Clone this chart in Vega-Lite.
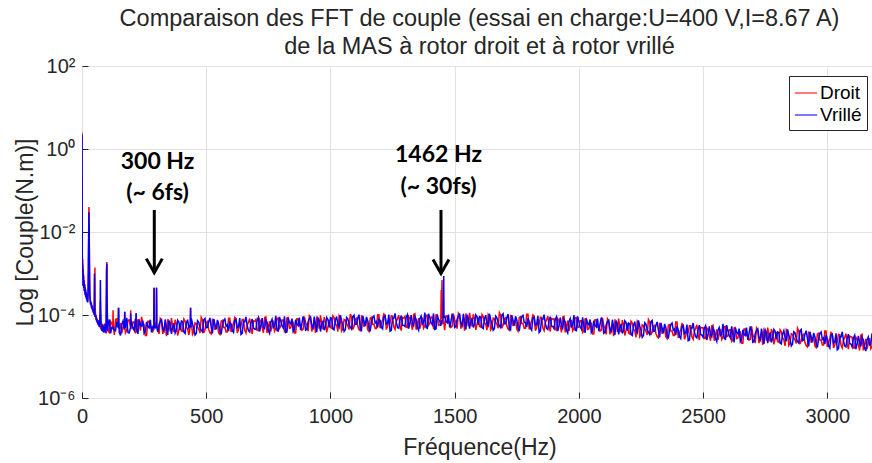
{
"$schema": "https://vega.github.io/schema/vega-lite/v6.json",
"width": 795, "height": 332,
"autosize": {"type": "none"},
"padding": {"left": 82, "top": 66, "right": 0, "bottom": 65},
"background": "white",
"title": {"text": ["Comparaison des FFT de couple (essai en charge:U=400 V,I=8.67 A)", "de la MAS à rotor droit et à rotor vrillé"], "fontSize": 23.5, "font": "Liberation Sans", "fontWeight": "normal", "color": "#262626", "lineHeight": 28, "offset": -2, "anchor": "middle", "frame": "group"},
"config": {
  "view": {"stroke": "#262626", "strokeWidth": 1},
  "axis": {"labelFont": "Liberation Sans", "titleFont": "Liberation Sans", "labelColor": "#262626", "titleColor": "#262626", "titleFontWeight": "normal", "gridColor": "#e2e2e2", "domain": false, "tickColor": "#262626", "tickSize": -6, "labelFontSize": 20, "titleFontSize": 23},
  "legend": {"orient": "top-right", "offset": 10, "strokeColor": "#262626", "fillColor": "white", "padding": 5, "symbolType": "stroke", "symbolSize": 500, "symbolStrokeWidth": 1.5, "labelFont": "Liberation Sans", "labelFontSize": 19, "labelColor": "#000", "rowPadding": 0, "labelOffset": 2, "symbolOpacity": 0.7}
},
"layer": [
{
"data": {"values": [
{"f":0,"droit":2.5,"vrille":2.2},
{"f":1,"droit":4e-3,"vrille":3e-3},
{"f":2,"droit":1.2e-3,"vrille":9e-4},
{"f":3,"droit":2.2e-3,"vrille":1.6e-3},
{"f":4,"droit":7e-4,"vrille":5e-4},
{"f":5,"droit":1.3e-3,"vrille":1e-3},
{"f":6,"droit":5e-4,"vrille":7e-4},
{"f":7,"droit":9e-4,"vrille":4.5e-4},
{"f":8,"droit":4.5e-4,"vrille":6.5e-4},
{"f":9,"droit":7e-4,"vrille":3.8e-4},
{"f":10,"droit":3.8e-4,"vrille":5.5e-4},
{"f":11,"droit":5.5e-4,"vrille":3.5e-4},
{"f":12,"droit":3.3e-4,"vrille":4.8e-4},
{"f":13,"droit":4.5e-4,"vrille":3e-4},
{"f":14,"droit":3e-4,"vrille":4.2e-4},
{"f":15,"droit":4e-4,"vrille":2.8e-4},
{"f":16,"droit":2.7e-4,"vrille":3.6e-4},
{"f":17,"droit":3.5e-4,"vrille":2.5e-4},
{"f":18,"droit":2.5e-4,"vrille":3.2e-4},
{"f":19,"droit":3.2e-4,"vrille":2.3e-4},
{"f":20,"droit":2.3e-4,"vrille":2.9e-4},
{"f":21,"droit":2.9e-4,"vrille":2.1e-4},
{"f":22,"droit":2.1e-4,"vrille":2.7e-4},
{"f":23,"droit":2.6e-4,"vrille":2e-4},
{"f":24,"droit":3e-4,"vrille":2.6e-4},
{"f":25,"droit":6e-4,"vrille":4.5e-4},
{"f":26,"droit":2.5e-3,"vrille":1.8e-3},
{"f":27,"droit":0.012,"vrille":0.009},
{"f":28,"droit":0.04,"vrille":0.03},
{"f":29,"droit":0.01,"vrille":0.007},
{"f":30,"droit":2e-3,"vrille":1.3e-3},
{"f":31,"droit":5e-4,"vrille":4e-4},
{"f":32,"droit":2.4e-4,"vrille":2.8e-4},
{"f":34,"droit":2.2e-4,"vrille":1.8e-4},
{"f":36,"droit":1.7e-4,"vrille":2.1e-4},
{"f":38,"droit":1.9e-4,"vrille":1.5e-4},
{"f":40,"droit":1.4e-4,"vrille":1.7e-4},
{"f":42,"droit":1.6e-4,"vrille":1.3e-4},
{"f":44,"droit":1.2e-4,"vrille":1.4e-4},
{"f":46,"droit":1.3e-4,"vrille":1.1e-4},
{"f":48,"droit":1e-4,"vrille":1.2e-4},
{"f":49,"droit":1.1e-4,"vrille":2e-4},
{"f":50,"droit":1.2e-4,"vrille":1e-3},
{"f":51,"droit":2.5e-4,"vrille":2.2e-4},
{"f":52,"droit":1.4e-3,"vrille":9e-5},
{"f":53,"droit":1.5e-4,"vrille":1e-4},
{"f":55,"droit":8.5e-5,"vrille":1e-4},
{"f":57,"droit":9.5e-5,"vrille":7.5e-5},
{"f":59,"droit":7e-5,"vrille":8.5e-5},
{"f":61,"droit":8e-5,"vrille":6.5e-5},
{"f":63,"droit":6.2e-5,"vrille":7.5e-5},
{"f":65,"droit":7.5e-5,"vrille":5.8e-5},
{"f":67,"droit":5.5e-5,"vrille":7e-5},
{"f":69,"droit":7e-5,"vrille":5.2e-5},
{"f":71,"droit":5e-5,"vrille":6.5e-5},
{"f":73,"droit":6.5e-5,"vrille":1.2e-4},
{"f":74,"droit":2.2e-4,"vrille":7e-4},
{"f":75,"droit":5.5e-5,"vrille":1.5e-4},
{"f":77,"droit":4.5e-5,"vrille":6e-5},
{"f":79,"droit":6.5e-5,"vrille":4.2e-5},
{"f":81,"droit":4.2e-5,"vrille":5.8e-5},
{"f":83,"droit":6e-5,"vrille":4e-5},
{"f":85,"droit":4e-5,"vrille":5.5e-5},
{"f":87,"droit":5.8e-5,"vrille":3.8e-5},
{"f":89,"droit":3.8e-5,"vrille":5.2e-5},
{"f":91,"droit":6.2e-5,"vrille":4.1e-5},
{"f":93,"droit":4e-5,"vrille":6e-5},
{"f":95,"droit":5.5e-5,"vrille":3.7e-5},
{"f":97,"droit":3.6e-5,"vrille":5.4e-5},
{"f":98,"droit":1.5e-4,"vrille":2.5e-4},
{"f":99,"droit":1.3e-3,"vrille":1.2e-3},
{"f":100,"droit":1.9e-3,"vrille":1.7e-3},
{"f":101,"droit":2.2e-4,"vrille":1.8e-4},
{"f":103,"droit":6e-5,"vrille":4.2e-5},
{"f":105,"droit":4.1e-5,"vrille":5.8e-5},
{"f":110,"droit":3.8e-5,"vrille":7.8e-5},
{"f":120,"droit":6.2e-5,"vrille":5e-5},
{"f":124,"droit":5e-5,"vrille":4.8e-5},
{"f":125,"droit":1.3e-4,"vrille":5.2e-5},
{"f":126,"droit":5.5e-5,"vrille":4.6e-5},
{"f":130,"droit":3.3e-5,"vrille":4.4e-5},
{"f":140,"droit":8.1e-5,"vrille":6.9e-5},
{"f":145,"droit":5.2e-5,"vrille":5e-5},
{"f":146,"droit":1.5e-4,"vrille":5.6e-5},
{"f":147,"droit":5e-5,"vrille":6e-5},
{"f":148,"droit":5.8e-5,"vrille":1.5e-4},
{"f":149,"droit":4.9e-5,"vrille":5.3e-5},
{"f":150,"droit":4.6e-5,"vrille":3.8e-5},
{"f":160,"droit":3.6e-5,"vrille":6e-5},
{"f":170,"droit":6.6e-5,"vrille":4.5e-5},
{"f":171,"droit":5.5e-5,"vrille":5e-5},
{"f":172,"droit":1.2e-4,"vrille":1.2e-4},
{"f":173,"droit":5e-5,"vrille":5.6e-5},
{"f":180,"droit":4.2e-5,"vrille":8.6e-5},
{"f":190,"droit":7.6e-5,"vrille":3.7e-5},
{"f":195,"droit":5.3e-5,"vrille":4.9e-5},
{"f":196,"droit":1.3e-4,"vrille":1.1e-4},
{"f":197,"droit":5e-5,"vrille":5.5e-5},
{"f":200,"droit":4.8e-5,"vrille":6.4e-5},
{"f":210,"droit":6.8e-5,"vrille":4.3e-5},
{"f":217,"droit":5.6e-5,"vrille":5.1e-5},
{"f":218,"droit":1.1e-4,"vrille":1.1e-4},
{"f":219,"droit":4.9e-5,"vrille":5.4e-5},
{"f":220,"droit":3.8e-5,"vrille":4.6e-5},
{"f":230,"droit":7.7e-5,"vrille":7.5e-5},
{"f":240,"droit":9e-5,"vrille":5.4e-5},
{"f":250,"droit":5.9e-5,"vrille":3.6e-5},
{"f":260,"droit":3.2e-5,"vrille":6.8e-5},
{"f":270,"droit":7.1e-5,"vrille":4.9e-5},
{"f":280,"droit":5.1e-5,"vrille":3.8e-5},
{"f":289,"droit":5.2e-5,"vrille":4.8e-5},
{"f":290,"droit":4.6e-4,"vrille":4.5e-4},
{"f":291,"droit":5e-5,"vrille":5.5e-5},
{"f":295,"droit":6e-5,"vrille":5e-5},
{"f":299,"droit":5.4e-5,"vrille":5.8e-5},
{"f":300,"droit":4.4e-4,"vrille":4.6e-4},
{"f":301,"droit":5.5e-5,"vrille":5e-5},
{"f":310,"droit":3.5e-5,"vrille":5.9e-5},
{"f":320,"droit":7.3e-5,"vrille":7.7e-5},
{"f":330,"droit":4.9e-5,"vrille":4.1e-5},
{"f":340,"droit":3.1e-5,"vrille":5.1e-5},
{"f":350,"droit":6.5e-5,"vrille":7.2e-5},
{"f":360,"droit":8.4e-5,"vrille":3.5e-5},
{"f":370,"droit":3.9e-5,"vrille":6.3e-5},
{"f":380,"droit":5.9e-5,"vrille":4.4e-5},
{"f":390,"droit":4.4e-5,"vrille":6.7e-5},
{"f":400,"droit":4.1e-5,"vrille":7.2e-5},
{"f":410,"droit":8e-5,"vrille":3.9e-5},
{"f":420,"droit":5.1e-5,"vrille":6.3e-5},
{"f":430,"droit":3.3e-5,"vrille":4.9e-5},
{"f":436,"droit":5.3e-5,"vrille":5.8e-5},
{"f":437,"droit":1.5e-4,"vrille":1.5e-4},
{"f":438,"droit":5.6e-5,"vrille":5e-5},
{"f":440,"droit":7e-5,"vrille":8.3e-5},
{"f":450,"droit":3.9e-5,"vrille":4.7e-5},
{"f":460,"droit":6.2e-5,"vrille":3.6e-5},
{"f":470,"droit":4.6e-5,"vrille":6.7e-5},
{"f":480,"droit":8.8e-5,"vrille":4.3e-5},
{"f":490,"droit":3.7e-5,"vrille":7.7e-5},
{"f":500,"droit":6.6e-5,"vrille":4.9e-5},
{"f":510,"droit":4.5e-5,"vrille":7e-5},
{"f":520,"droit":3.5e-5,"vrille":5.2e-5},
{"f":530,"droit":7.7e-5,"vrille":8e-5},
{"f":540,"droit":5.6e-5,"vrille":4.5e-5},
{"f":550,"droit":3.7e-5,"vrille":6.2e-5},
{"f":560,"droit":7.1e-5,"vrille":3.4e-5},
{"f":570,"droit":5e-5,"vrille":7.4e-5},
{"f":580,"droit":3.9e-5,"vrille":5.3e-5},
{"f":590,"droit":8.4e-5,"vrille":4.1e-5},
{"f":600,"droit":3.9e-5,"vrille":6.1e-5},
{"f":610,"droit":6.4e-5,"vrille":3.8e-5},
{"f":620,"droit":8.2e-5,"vrille":7.8e-5},
{"f":630,"droit":4.4e-5,"vrille":5.2e-5},
{"f":640,"droit":5.5e-5,"vrille":3.4e-5},
{"f":650,"droit":7.8e-5,"vrille":7e-5},
{"f":660,"droit":3.7e-5,"vrille":9e-5},
{"f":670,"droit":6.7e-5,"vrille":4.2e-5},
{"f":680,"droit":4.8e-5,"vrille":6.4e-5},
{"f":690,"droit":7.2e-5,"vrille":4.8e-5},
{"f":700,"droit":7.8e-5,"vrille":4.5e-5},
{"f":710,"droit":4.2e-5,"vrille":8.7e-5},
{"f":720,"droit":6.9e-5,"vrille":5.5e-5},
{"f":730,"droit":3.7e-5,"vrille":5e-5},
{"f":740,"droit":9e-5,"vrille":7.7e-5},
{"f":750,"droit":5.1e-5,"vrille":4.2e-5},
{"f":760,"droit":4e-5,"vrille":6.7e-5},
{"f":770,"droit":7.3e-5,"vrille":5e-5},
{"f":780,"droit":4.7e-5,"vrille":9.6e-5},
{"f":790,"droit":8.4e-5,"vrille":4.1e-5},
{"f":800,"droit":5.4e-5,"vrille":7.2e-5},
{"f":810,"droit":7.6e-5,"vrille":4.9e-5},
{"f":820,"droit":4.3e-5,"vrille":3.8e-5},
{"f":830,"droit":8.7e-5,"vrille":8.4e-5},
{"f":840,"droit":4.9e-5,"vrille":6.1e-5},
{"f":850,"droit":6.7e-5,"vrille":4e-5},
{"f":860,"droit":3.7e-5,"vrille":7.7e-5},
{"f":870,"droit":8.1e-5,"vrille":5.5e-5},
{"f":880,"droit":5.8e-5,"vrille":4.3e-5},
{"f":890,"droit":4.5e-5,"vrille":9.2e-5},
{"f":900,"droit":6.6e-5,"vrille":4.3e-5},
{"f":910,"droit":4.1e-5,"vrille":6.9e-5},
{"f":920,"droit":8.5e-5,"vrille":8.9e-5},
{"f":930,"droit":5.7e-5,"vrille":4.8e-5},
{"f":940,"droit":3.7e-5,"vrille":5.9e-5},
{"f":950,"droit":7.6e-5,"vrille":8.4e-5},
{"f":960,"droit":9.8e-5,"vrille":4e-5},
{"f":970,"droit":4.5e-5,"vrille":7.3e-5},
{"f":980,"droit":6.9e-5,"vrille":5.2e-5},
{"f":990,"droit":5.2e-5,"vrille":7.8e-5},
{"f":1000,"droit":5e-5,"vrille":8.6e-5},
{"f":1010,"droit":9.6e-5,"vrille":4.6e-5},
{"f":1020,"droit":6.1e-5,"vrille":7.6e-5},
{"f":1030,"droit":4e-5,"vrille":5.9e-5},
{"f":1040,"droit":8.4e-5,"vrille":9.9e-5},
{"f":1050,"droit":4.6e-5,"vrille":5.6e-5},
{"f":1060,"droit":7.4e-5,"vrille":4.4e-5},
{"f":1070,"droit":5.5e-5,"vrille":8.1e-5},
{"f":1080,"droit":1.06e-4,"vrille":5.1e-5},
{"f":1090,"droit":4.5e-5,"vrille":9.2e-5},
{"f":1100,"droit":7.9e-5,"vrille":5.9e-5},
{"f":1110,"droit":5.4e-5,"vrille":8.4e-5},
{"f":1120,"droit":4.2e-5,"vrille":4.7e-5},
{"f":1130,"droit":9.2e-5,"vrille":9.5e-5},
{"f":1140,"droit":6.7e-5,"vrille":5.4e-5},
{"f":1150,"droit":4.4e-5,"vrille":7.4e-5},
{"f":1160,"droit":8.4e-5,"vrille":4e-5},
{"f":1170,"droit":6e-5,"vrille":8.8e-5},
{"f":1180,"droit":4.7e-5,"vrille":6.4e-5},
{"f":1190,"droit":1.01e-4,"vrille":5e-5},
{"f":1200,"droit":4.8e-5,"vrille":7.4e-5},
{"f":1210,"droit":7.7e-5,"vrille":4.6e-5},
{"f":1220,"droit":9.9e-5,"vrille":9.5e-5},
{"f":1230,"droit":5.3e-5,"vrille":6.3e-5},
{"f":1240,"droit":6.6e-5,"vrille":4.1e-5},
{"f":1250,"droit":9.4e-5,"vrille":8.4e-5},
{"f":1260,"droit":4.5e-5,"vrille":1.09e-4},
{"f":1270,"droit":8.1e-5,"vrille":5e-5},
{"f":1280,"droit":5.7e-5,"vrille":7.7e-5},
{"f":1290,"droit":8.7e-5,"vrille":5.7e-5},
{"f":1300,"droit":9.2e-5,"vrille":5.3e-5},
{"f":1310,"droit":5e-5,"vrille":1.03e-4},
{"f":1320,"droit":8.2e-5,"vrille":6.5e-5},
{"f":1330,"droit":4.4e-5,"vrille":6.2e-5},
{"f":1340,"droit":1.07e-4,"vrille":9.1e-5},
{"f":1350,"droit":6e-5,"vrille":5e-5},
{"f":1360,"droit":4.7e-5,"vrille":8e-5},
{"f":1370,"droit":8.7e-5,"vrille":6e-5},
{"f":1380,"droit":5.5e-5,"vrille":1.14e-4},
{"f":1390,"droit":9.9e-5,"vrille":4.8e-5},
{"f":1400,"droit":6.3e-5,"vrille":8.5e-5},
{"f":1410,"droit":9e-5,"vrille":5.8e-5},
{"f":1420,"droit":5e-5,"vrille":4.5e-5},
{"f":1430,"droit":1.02e-4,"vrille":9.9e-5},
{"f":1440,"droit":5.8e-5,"vrille":7.2e-5},
{"f":1444,"droit":6e-5,"vrille":5.5e-5},
{"f":1446,"droit":4e-4,"vrille":6.5e-5},
{"f":1447,"droit":8e-5,"vrille":6e-5},
{"f":1449,"droit":7e-4,"vrille":7.5e-5},
{"f":1450,"droit":9e-5,"vrille":7e-5},
{"f":1453,"droit":6.5e-5,"vrille":8e-5},
{"f":1456,"droit":7e-5,"vrille":8.7e-4},
{"f":1457,"droit":6e-5,"vrille":9e-5},
{"f":1460,"droit":4.3e-5,"vrille":9.1e-5},
{"f":1470,"droit":9.5e-5,"vrille":6.5e-5},
{"f":1480,"droit":6.8e-5,"vrille":5e-5},
{"f":1490,"droit":5.3e-5,"vrille":1.08e-4},
{"f":1500,"droit":7.7e-5,"vrille":5e-5},
{"f":1510,"droit":4.7e-5,"vrille":8e-5},
{"f":1520,"droit":9.9e-5,"vrille":1.04e-4},
{"f":1530,"droit":6.6e-5,"vrille":5.5e-5},
{"f":1540,"droit":4.2e-5,"vrille":6.9e-5},
{"f":1550,"droit":8.8e-5,"vrille":9.8e-5},
{"f":1560,"droit":1.13e-4,"vrille":4.7e-5},
{"f":1570,"droit":5.3e-5,"vrille":8.5e-5},
{"f":1580,"droit":8e-5,"vrille":6e-5},
{"f":1590,"droit":6e-5,"vrille":9.1e-5},
{"f":1600,"droit":5.3e-5,"vrille":9.2e-5},
{"f":1610,"droit":1.03e-4,"vrille":5e-5},
{"f":1620,"droit":6.5e-5,"vrille":8.2e-5},
{"f":1630,"droit":4.3e-5,"vrille":6.1e-5},
{"f":1640,"droit":9.1e-5,"vrille":1.07e-4},
{"f":1650,"droit":5e-5,"vrille":6e-5},
{"f":1660,"droit":8e-5,"vrille":4.7e-5},
{"f":1670,"droit":6e-5,"vrille":8.7e-5},
{"f":1680,"droit":1.14e-4,"vrille":5.5e-5},
{"f":1690,"droit":4.8e-5,"vrille":9.9e-5},
{"f":1700,"droit":8.1e-5,"vrille":6.1e-5},
{"f":1710,"droit":5.5e-5,"vrille":8.6e-5},
{"f":1720,"droit":4.3e-5,"vrille":4.8e-5},
{"f":1730,"droit":9.5e-5,"vrille":9.8e-5},
{"f":1740,"droit":6.9e-5,"vrille":5.5e-5},
{"f":1750,"droit":4.6e-5,"vrille":7.6e-5},
{"f":1760,"droit":8.7e-5,"vrille":4.1e-5},
{"f":1770,"droit":6.2e-5,"vrille":9.1e-5},
{"f":1780,"droit":4.8e-5,"vrille":6.6e-5},
{"f":1790,"droit":1.04e-4,"vrille":5.1e-5},
{"f":1800,"droit":4.5e-5,"vrille":6.9e-5},
{"f":1810,"droit":7.3e-5,"vrille":4.3e-5},
{"f":1820,"droit":9.4e-5,"vrille":8.9e-5},
{"f":1830,"droit":5e-5,"vrille":5.9e-5},
{"f":1840,"droit":6.2e-5,"vrille":3.8e-5},
{"f":1850,"droit":8.8e-5,"vrille":7.9e-5},
{"f":1860,"droit":4.2e-5,"vrille":1.02e-4},
{"f":1870,"droit":7.7e-5,"vrille":4.8e-5},
{"f":1880,"droit":5.4e-5,"vrille":7.3e-5},
{"f":1890,"droit":8.2e-5,"vrille":5.4e-5},
{"f":1900,"droit":8.1e-5,"vrille":4.7e-5},
{"f":1910,"droit":4.3e-5,"vrille":9e-5},
{"f":1920,"droit":7.1e-5,"vrille":5.7e-5},
{"f":1930,"droit":3.8e-5,"vrille":5.6e-5},
{"f":1940,"droit":9.3e-5,"vrille":7.9e-5},
{"f":1950,"droit":5.3e-5,"vrille":4.3e-5},
{"f":1960,"droit":4.1e-5,"vrille":6.9e-5},
{"f":1970,"droit":7.6e-5,"vrille":5.2e-5},
{"f":1980,"droit":4.8e-5,"vrille":9.9e-5},
{"f":1990,"droit":8.7e-5,"vrille":4.2e-5},
{"f":2000,"droit":5.1e-5,"vrille":6.8e-5},
{"f":2010,"droit":7.3e-5,"vrille":4.6e-5},
{"f":2020,"droit":4.1e-5,"vrille":5.5e-5},
{"f":2030,"droit":8.2e-5,"vrille":8e-5},
{"f":2040,"droit":4.6e-5,"vrille":5.8e-5},
{"f":2050,"droit":6.4e-5,"vrille":3.8e-5},
{"f":2060,"droit":3.5e-5,"vrille":7.3e-5},
{"f":2070,"droit":7.7e-5,"vrille":5.2e-5},
{"f":2080,"droit":5.5e-5,"vrille":4.1e-5},
{"f":2090,"droit":4.3e-5,"vrille":8.7e-5},
{"f":2100,"droit":5.6e-5,"vrille":3.6e-5},
{"f":2110,"droit":3.4e-5,"vrille":5.8e-5},
{"f":2120,"droit":7.2e-5,"vrille":7.5e-5},
{"f":2130,"droit":4.8e-5,"vrille":4e-5},
{"f":2140,"droit":3.1e-5,"vrille":5e-5},
{"f":2150,"droit":6.4e-5,"vrille":7.1e-5},
{"f":2160,"droit":8.2e-5,"vrille":3.4e-5},
{"f":2170,"droit":3.8e-5,"vrille":6.1e-5},
{"f":2180,"droit":5.8e-5,"vrille":4.3e-5},
{"f":2190,"droit":4.3e-5,"vrille":6.6e-5},
{"f":2200,"droit":3.7e-5,"vrille":6.4e-5},
{"f":2210,"droit":7.1e-5,"vrille":3.4e-5},
{"f":2220,"droit":4.5e-5,"vrille":5.6e-5},
{"f":2230,"droit":2.9e-5,"vrille":4.3e-5},
{"f":2240,"droit":6.3e-5,"vrille":7.4e-5},
{"f":2250,"droit":3.4e-5,"vrille":4.2e-5},
{"f":2260,"droit":5.5e-5,"vrille":3.2e-5},
{"f":2270,"droit":4.1e-5,"vrille":6e-5},
{"f":2280,"droit":7.8e-5,"vrille":3.8e-5},
{"f":2290,"droit":3.3e-5,"vrille":6.9e-5},
{"f":2300,"droit":5.3e-5,"vrille":4e-5},
{"f":2310,"droit":3.6e-5,"vrille":5.6e-5},
{"f":2320,"droit":2.8e-5,"vrille":4.4e-5},
{"f":2330,"droit":6.2e-5,"vrille":6.4e-5},
{"f":2340,"droit":4.5e-5,"vrille":3.6e-5},
{"f":2350,"droit":3e-5,"vrille":5e-5},
{"f":2360,"droit":5.7e-5,"vrille":2.7e-5},
{"f":2370,"droit":4.1e-5,"vrille":5.9e-5},
{"f":2380,"droit":3.2e-5,"vrille":4.3e-5},
{"f":2390,"droit":6.8e-5,"vrille":3.3e-5},
{"f":2400,"droit":2.8e-5,"vrille":4.3e-5},
{"f":2410,"droit":4.5e-5,"vrille":2.7e-5},
{"f":2420,"droit":5.8e-5,"vrille":5.5e-5},
{"f":2430,"droit":3.1e-5,"vrille":3.7e-5},
{"f":2440,"droit":3.9e-5,"vrille":2.4e-5},
{"f":2450,"droit":5.5e-5,"vrille":4.9e-5},
{"f":2460,"droit":2.6e-5,"vrille":6.4e-5},
{"f":2470,"droit":4.8e-5,"vrille":3e-5},
{"f":2480,"droit":3.4e-5,"vrille":4.5e-5},
{"f":2490,"droit":5.1e-5,"vrille":3.4e-5},
{"f":2500,"droit":4.9e-5,"vrille":2.9e-5},
{"f":2510,"droit":2.7e-5,"vrille":5.5e-5},
{"f":2520,"droit":4.4e-5,"vrille":3.5e-5},
{"f":2530,"droit":2.4e-5,"vrille":3.4e-5},
{"f":2540,"droit":5.7e-5,"vrille":4.9e-5},
{"f":2550,"droit":3.2e-5,"vrille":2.7e-5},
{"f":2560,"droit":2.5e-5,"vrille":4.3e-5},
{"f":2570,"droit":4.6e-5,"vrille":3.2e-5},
{"f":2580,"droit":3e-5,"vrille":6.1e-5},
{"f":2590,"droit":5.3e-5,"vrille":2.6e-5},
{"f":2600,"droit":3.1e-5,"vrille":4.1e-5},
{"f":2610,"droit":4.4e-5,"vrille":2.8e-5},
{"f":2620,"droit":2.5e-5,"vrille":3.3e-5},
{"f":2630,"droit":5e-5,"vrille":4.8e-5},
{"f":2640,"droit":2.8e-5,"vrille":3.5e-5},
{"f":2650,"droit":3.9e-5,"vrille":2.3e-5},
{"f":2660,"droit":2.1e-5,"vrille":4.4e-5},
{"f":2670,"droit":4.6e-5,"vrille":3.2e-5},
{"f":2680,"droit":3.3e-5,"vrille":2.5e-5},
{"f":2690,"droit":2.6e-5,"vrille":5.3e-5},
{"f":2700,"droit":3.4e-5,"vrille":2.2e-5},
{"f":2710,"droit":2.1e-5,"vrille":3.6e-5},
{"f":2720,"droit":4.4e-5,"vrille":4.6e-5},
{"f":2730,"droit":2.9e-5,"vrille":2.5e-5},
{"f":2740,"droit":1.9e-5,"vrille":3.1e-5},
{"f":2750,"droit":3.9e-5,"vrille":4.4e-5},
{"f":2760,"droit":5e-5,"vrille":2.1e-5},
{"f":2770,"droit":2.3e-5,"vrille":3.8e-5},
{"f":2780,"droit":3.6e-5,"vrille":2.7e-5},
{"f":2790,"droit":2.7e-5,"vrille":4e-5},
{"f":2800,"droit":2.3e-5,"vrille":3.9e-5},
{"f":2810,"droit":4.4e-5,"vrille":2.1e-5},
{"f":2820,"droit":2.8e-5,"vrille":3.5e-5},
{"f":2830,"droit":1.8e-5,"vrille":2.8e-5},
{"f":2840,"droit":3.8e-5,"vrille":4.5e-5},
{"f":2850,"droit":2.1e-5,"vrille":2.6e-5},
{"f":2860,"droit":3.4e-5,"vrille":2e-5},
{"f":2870,"droit":2.5e-5,"vrille":3.7e-5},
{"f":2880,"droit":4.8e-5,"vrille":2.3e-5},
{"f":2890,"droit":2e-5,"vrille":4.2e-5},
{"f":2900,"droit":3.2e-5,"vrille":2.4e-5},
{"f":2910,"droit":2.2e-5,"vrille":3.4e-5},
{"f":2920,"droit":1.7e-5,"vrille":2.7e-5},
{"f":2930,"droit":3.8e-5,"vrille":3.9e-5},
{"f":2940,"droit":2.75e-5,"vrille":2.2e-5},
{"f":2950,"droit":1.8e-5,"vrille":3e-5},
{"f":2960,"droit":3.5e-5,"vrille":1.65e-5},
{"f":2970,"droit":2.5e-5,"vrille":3.6e-5},
{"f":2980,"droit":1.9e-5,"vrille":2.6e-5},
{"f":2990,"droit":4.1e-5,"vrille":2e-5},
{"f":3000,"droit":1.7e-5,"vrille":2.6e-5},
{"f":3010,"droit":2.75e-5,"vrille":1.6e-5},
{"f":3020,"droit":3.55e-5,"vrille":3.4e-5},
{"f":3030,"droit":1.9e-5,"vrille":2.25e-5},
{"f":3040,"droit":2.35e-5,"vrille":1.45e-5},
{"f":3050,"droit":3.35e-5,"vrille":3e-5},
{"f":3060,"droit":1.6e-5,"vrille":3.9e-5},
{"f":3070,"droit":2.9e-5,"vrille":1.8e-5},
{"f":3080,"droit":2.05e-5,"vrille":2.75e-5},
{"f":3090,"droit":3.1e-5,"vrille":2.05e-5},
{"f":3100,"droit":2.9e-5,"vrille":1.7e-5},
{"f":3110,"droit":1.6e-5,"vrille":3.25e-5},
{"f":3120,"droit":2.6e-5,"vrille":2.05e-5},
{"f":3130,"droit":1.4e-5,"vrille":2.2e-5},
{"f":3140,"droit":3.4e-5,"vrille":2.9e-5},
{"f":3150,"droit":1.9e-5,"vrille":1.6e-5},
{"f":3160,"droit":1.5e-5,"vrille":2.5e-5},
{"f":3170,"droit":2.75e-5,"vrille":1.9e-5},
{"f":3180,"droit":1.75e-5,"vrille":3.6e-5},
{"f":3190,"droit":3.15e-5,"vrille":1.55e-5},
{"f":3200,"droit":2e-5,"vrille":2.3e-5},
{"f":115,"droit":7e-5,"vrille":3.6e-5},
{"f":135,"droit":7.8e-5,"vrille":4.2e-5},
{"f":155,"droit":6.4e-5,"vrille":3.2e-5},
{"f":165,"droit":5.1e-5,"vrille":7.1e-5},
{"f":175,"droit":3.7e-5,"vrille":4.9e-5},
{"f":185,"droit":7.5e-5,"vrille":3.8e-5},
{"f":205,"droit":6.8e-5,"vrille":4.9e-5},
{"f":215,"droit":3.6e-5,"vrille":8.2e-5},
{"f":225,"droit":7.6e-5,"vrille":3.5e-5},
{"f":235,"droit":4.2e-5,"vrille":5.8e-5},
{"f":245,"droit":5.9e-5,"vrille":7.3e-5},
{"f":255,"droit":3.2e-5,"vrille":4e-5},
{"f":265,"droit":7.1e-5,"vrille":5.3e-5},
{"f":275,"droit":4.9e-5,"vrille":7.7e-5},
{"f":285,"droit":3.8e-5,"vrille":5.2e-5},
{"f":305,"droit":4.9e-5,"vrille":3.9e-5},
{"f":315,"droit":8.2e-5,"vrille":7e-5},
{"f":325,"droit":3.5e-5,"vrille":4.6e-5},
{"f":335,"droit":5.8e-5,"vrille":7.8e-5},
{"f":345,"droit":7.3e-5,"vrille":3.3e-5},
{"f":355,"droit":4e-5,"vrille":6.4e-5},
{"f":365,"droit":5.3e-5,"vrille":5.1e-5},
{"f":375,"droit":7.7e-5,"vrille":3.7e-5},
{"f":385,"droit":3.2e-5,"vrille":7.5e-5},
{"f":395,"droit":6.5e-5,"vrille":4.3e-5},
{"f":405,"droit":4e-5,"vrille":6.9e-5},
{"f":415,"droit":7.2e-5,"vrille":3.6e-5},
{"f":425,"droit":4.7e-5,"vrille":7.7e-5},
{"f":445,"droit":3.4e-5,"vrille":6.1e-5},
{"f":455,"droit":6.5e-5,"vrille":3.3e-5},
{"f":465,"droit":5.2e-5,"vrille":7.3e-5},
{"f":475,"droit":3.7e-5,"vrille":5e-5},
{"f":485,"droit":7.6e-5,"vrille":3.9e-5},
{"f":495,"droit":4.4e-5,"vrille":8.3e-5},
{"f":505,"droit":7e-5,"vrille":5e-5},
{"f":515,"droit":3.7e-5,"vrille":8.5e-5},
{"f":525,"droit":7.8e-5,"vrille":3.6e-5},
{"f":535,"droit":4.4e-5,"vrille":6e-5},
{"f":545,"droit":6.2e-5,"vrille":7.6e-5},
{"f":555,"droit":3.4e-5,"vrille":4.1e-5},
{"f":565,"droit":7.4e-5,"vrille":5.5e-5},
{"f":575,"droit":5e-5,"vrille":8e-5},
{"f":585,"droit":3.9e-5,"vrille":5.8e-5},
{"f":595,"droit":8.4e-5,"vrille":6.7e-5},
{"f":605,"droit":5.2e-5,"vrille":4.2e-5},
{"f":615,"droit":8.8e-5,"vrille":7.5e-5},
{"f":625,"droit":3.7e-5,"vrille":4.9e-5},
{"f":635,"droit":6.3e-5,"vrille":8.4e-5},
{"f":645,"droit":7.8e-5,"vrille":3.6e-5},
{"f":655,"droit":4.3e-5,"vrille":6.8e-5},
{"f":665,"droit":5.7e-5,"vrille":5.5e-5},
{"f":675,"droit":8.2e-5,"vrille":3.9e-5},
{"f":685,"droit":3.5e-5,"vrille":8e-5},
{"f":695,"droit":7e-5,"vrille":4.6e-5},
{"f":705,"droit":4.3e-5,"vrille":7.5e-5},
{"f":715,"droit":7.8e-5,"vrille":4e-5},
{"f":725,"droit":5.1e-5,"vrille":8.4e-5},
{"f":735,"droit":8.7e-5,"vrille":4.7e-5},
{"f":745,"droit":3.7e-5,"vrille":6.6e-5},
{"f":755,"droit":7.1e-5,"vrille":3.6e-5},
{"f":765,"droit":5.7e-5,"vrille":7.9e-5},
{"f":775,"droit":4.1e-5,"vrille":5.4e-5},
{"f":785,"droit":8.3e-5,"vrille":4.2e-5},
{"f":795,"droit":4.8e-5,"vrille":9e-5},
{"f":805,"droit":7.6e-5,"vrille":5.5e-5},
{"f":815,"droit":4e-5,"vrille":9.3e-5},
{"f":825,"droit":8.5e-5,"vrille":3.9e-5},
{"f":835,"droit":4.8e-5,"vrille":6.6e-5},
{"f":845,"droit":6.7e-5,"vrille":8.2e-5},
{"f":855,"droit":3.7e-5,"vrille":4.5e-5},
{"f":865,"droit":8.1e-5,"vrille":6e-5},
{"f":875,"droit":5.5e-5,"vrille":8.7e-5},
{"f":885,"droit":4.3e-5,"vrille":6.2e-5},
{"f":895,"droit":9.2e-5,"vrille":7.3e-5},
{"f":905,"droit":5.7e-5,"vrille":4.5e-5},
{"f":915,"droit":9.6e-5,"vrille":8.2e-5},
{"f":925,"droit":4e-5,"vrille":5.4e-5},
{"f":935,"droit":6.8e-5,"vrille":9.1e-5},
{"f":945,"droit":8.5e-5,"vrille":3.9e-5},
{"f":955,"droit":4.7e-5,"vrille":7.4e-5},
{"f":965,"droit":6.2e-5,"vrille":6e-5},
{"f":975,"droit":8.9e-5,"vrille":4.3e-5},
{"f":985,"droit":3.8e-5,"vrille":8.7e-5},
{"f":995,"droit":7.6e-5,"vrille":5e-5},
{"f":1005,"droit":4.8e-5,"vrille":8.3e-5},
{"f":1015,"droit":8.6e-5,"vrille":4.4e-5},
{"f":1025,"droit":5.6e-5,"vrille":9.2e-5},
{"f":1035,"droit":9.6e-5,"vrille":5.1e-5},
{"f":1045,"droit":4.1e-5,"vrille":7.3e-5},
{"f":1055,"droit":7.8e-5,"vrille":4e-5},
{"f":1065,"droit":6.3e-5,"vrille":8.7e-5},
{"f":1075,"droit":4.5e-5,"vrille":5.9e-5},
{"f":1085,"droit":9.1e-5,"vrille":4.6e-5},
{"f":1095,"droit":5.3e-5,"vrille":9.9e-5},
{"f":1105,"droit":8.4e-5,"vrille":6e-5},
{"f":1115,"droit":4.4e-5,"vrille":1.02e-4},
{"f":1125,"droit":9.4e-5,"vrille":4.3e-5},
{"f":1135,"droit":5.2e-5,"vrille":7.2e-5},
{"f":1145,"droit":7.4e-5,"vrille":9e-5},
{"f":1155,"droit":4e-5,"vrille":5e-5},
{"f":1165,"droit":8.8e-5,"vrille":6.6e-5},
{"f":1175,"droit":6e-5,"vrille":9.5e-5},
{"f":1185,"droit":4.7e-5,"vrille":6.9e-5},
{"f":1195,"droit":1.01e-4,"vrille":8e-5},
{"f":1205,"droit":6.3e-5,"vrille":5e-5},
{"f":1215,"droit":1.06e-4,"vrille":9.1e-5},
{"f":1225,"droit":4.5e-5,"vrille":6e-5},
{"f":1235,"droit":7.6e-5,"vrille":1.02e-4},
{"f":1245,"droit":9.5e-5,"vrille":4.3e-5},
{"f":1255,"droit":5.2e-5,"vrille":8.3e-5},
{"f":1265,"droit":6.9e-5,"vrille":6.7e-5},
{"f":1275,"droit":9.9e-5,"vrille":4.8e-5},
{"f":1285,"droit":4.2e-5,"vrille":9.7e-5},
{"f":1295,"droit":8.4e-5,"vrille":5.6e-5},
{"f":1305,"droit":5.1e-5,"vrille":8.9e-5},
{"f":1315,"droit":9.2e-5,"vrille":4.7e-5},
{"f":1325,"droit":6e-5,"vrille":9.9e-5},
{"f":1335,"droit":1.03e-4,"vrille":5.5e-5},
{"f":1345,"droit":4.4e-5,"vrille":7.8e-5},
{"f":1355,"droit":8.4e-5,"vrille":4.3e-5},
{"f":1365,"droit":6.7e-5,"vrille":9.4e-5},
{"f":1375,"droit":4.8e-5,"vrille":6.4e-5},
{"f":1385,"droit":9.8e-5,"vrille":5e-5},
{"f":1395,"droit":5.7e-5,"vrille":1.07e-4},
{"f":1405,"droit":9e-5,"vrille":6.5e-5},
{"f":1415,"droit":4.8e-5,"vrille":1.09e-4},
{"f":1425,"droit":1.01e-4,"vrille":4.6e-5},
{"f":1435,"droit":5.6e-5,"vrille":7.8e-5},
{"f":1465,"droit":9.5e-5,"vrille":7.1e-5},
{"f":1475,"droit":6.5e-5,"vrille":1.02e-4},
{"f":1485,"droit":5e-5,"vrille":6.9e-5},
{"f":1495,"droit":1.08e-4,"vrille":8.6e-5},
{"f":1505,"droit":6.6e-5,"vrille":5.3e-5},
{"f":1515,"droit":1.11e-4,"vrille":9.5e-5},
{"f":1525,"droit":4.7e-5,"vrille":6.2e-5},
{"f":1535,"droit":7.9e-5,"vrille":1.06e-4},
{"f":1545,"droit":9.9e-5,"vrille":4.5e-5},
{"f":1555,"droit":5.4e-5,"vrille":8.6e-5},
{"f":1565,"droit":7.2e-5,"vrille":6.9e-5},
{"f":1575,"droit":1.04e-4,"vrille":5e-5},
{"f":1585,"droit":4.4e-5,"vrille":1.01e-4},
{"f":1595,"droit":8.8e-5,"vrille":5.8e-5},
{"f":1605,"droit":5.1e-5,"vrille":8.9e-5},
{"f":1615,"droit":9.2e-5,"vrille":4.7e-5},
{"f":1625,"droit":6e-5,"vrille":9.9e-5},
{"f":1635,"droit":1.03e-4,"vrille":5.5e-5},
{"f":1645,"droit":4.4e-5,"vrille":7.8e-5},
{"f":1655,"droit":8.4e-5,"vrille":4.3e-5},
{"f":1665,"droit":6.7e-5,"vrille":9.4e-5},
{"f":1675,"droit":4.8e-5,"vrille":6.4e-5},
{"f":1685,"droit":9.8e-5,"vrille":5e-5},
{"f":1695,"droit":5.7e-5,"vrille":1.07e-4},
{"f":1705,"droit":8.6e-5,"vrille":6.2e-5},
{"f":1715,"droit":4.6e-5,"vrille":1.05e-4},
{"f":1725,"droit":9.7e-5,"vrille":4.4e-5},
{"f":1735,"droit":5.4e-5,"vrille":7.5e-5},
{"f":1745,"droit":7.6e-5,"vrille":9.3e-5},
{"f":1755,"droit":4.1e-5,"vrille":5.1e-5},
{"f":1765,"droit":9.1e-5,"vrille":6.8e-5},
{"f":1775,"droit":6.2e-5,"vrille":9.8e-5},
{"f":1785,"droit":4.8e-5,"vrille":6.6e-5},
{"f":1795,"droit":1.04e-4,"vrille":8.3e-5},
{"f":1805,"droit":5.9e-5,"vrille":4.8e-5},
{"f":1815,"droit":1e-4,"vrille":8.6e-5},
{"f":1825,"droit":4.2e-5,"vrille":5.6e-5},
{"f":1835,"droit":7.1e-5,"vrille":9.6e-5},
{"f":1845,"droit":8.9e-5,"vrille":4.1e-5},
{"f":1855,"droit":4.9e-5,"vrille":7.8e-5},
{"f":1865,"droit":6.5e-5,"vrille":6.3e-5},
{"f":1875,"droit":9.4e-5,"vrille":4.5e-5},
{"f":1885,"droit":4e-5,"vrille":9.1e-5},
{"f":1895,"droit":7.9e-5,"vrille":5.3e-5},
{"f":1905,"droit":4.5e-5,"vrille":7.8e-5},
{"f":1915,"droit":8.1e-5,"vrille":4.1e-5},
{"f":1925,"droit":5.3e-5,"vrille":8.7e-5},
{"f":1935,"droit":9e-5,"vrille":4.8e-5},
{"f":1945,"droit":3.8e-5,"vrille":6.8e-5},
{"f":1955,"droit":7.3e-5,"vrille":3.7e-5},
{"f":1965,"droit":5.9e-5,"vrille":8.2e-5},
{"f":1975,"droit":4.2e-5,"vrille":5.6e-5},
{"f":1985,"droit":8.6e-5,"vrille":4.3e-5},
{"f":1995,"droit":5e-5,"vrille":9.3e-5},
{"f":2005,"droit":7.3e-5,"vrille":5.2e-5},
{"f":2015,"droit":3.8e-5,"vrille":8.8e-5},
{"f":2025,"droit":8.1e-5,"vrille":3.7e-5},
{"f":2035,"droit":4.5e-5,"vrille":6.3e-5},
{"f":2045,"droit":6.4e-5,"vrille":7.8e-5},
{"f":2055,"droit":3.5e-5,"vrille":4.3e-5},
{"f":2065,"droit":7.7e-5,"vrille":5.7e-5},
{"f":2075,"droit":5.2e-5,"vrille":8.2e-5},
{"f":2085,"droit":4.1e-5,"vrille":5.9e-5},
{"f":2095,"droit":8.7e-5,"vrille":7e-5},
{"f":2105,"droit":4.8e-5,"vrille":3.8e-5},
{"f":2115,"droit":8.1e-5,"vrille":6.9e-5},
{"f":2125,"droit":3.4e-5,"vrille":4.5e-5},
{"f":2135,"droit":5.7e-5,"vrille":7.7e-5},
{"f":2145,"droit":7.2e-5,"vrille":3.3e-5},
{"f":2155,"droit":3.9e-5,"vrille":6.3e-5},
{"f":2165,"droit":5.2e-5,"vrille":5e-5},
{"f":2175,"droit":7.5e-5,"vrille":3.6e-5},
{"f":2185,"droit":3.2e-5,"vrille":7.3e-5},
{"f":2195,"droit":6.4e-5,"vrille":4.2e-5},
{"f":2205,"droit":3.5e-5,"vrille":6.1e-5},
{"f":2215,"droit":6.4e-5,"vrille":3.2e-5},
{"f":2225,"droit":4.2e-5,"vrille":6.9e-5},
{"f":2235,"droit":7.1e-5,"vrille":3.8e-5},
{"f":2245,"droit":3e-5,"vrille":5.4e-5},
{"f":2255,"droit":5.8e-5,"vrille":2.9e-5},
{"f":2265,"droit":4.7e-5,"vrille":6.5e-5},
{"f":2275,"droit":3.3e-5,"vrille":4.4e-5},
{"f":2285,"droit":6.8e-5,"vrille":3.4e-5},
{"f":2295,"droit":3.9e-5,"vrille":7.4e-5},
{"f":2305,"droit":5.6e-5,"vrille":4.1e-5},
{"f":2315,"droit":3e-5,"vrille":6.8e-5},
{"f":2325,"droit":6.3e-5,"vrille":2.9e-5},
{"f":2335,"droit":3.5e-5,"vrille":4.9e-5},
{"f":2345,"droit":5e-5,"vrille":6.1e-5},
{"f":2355,"droit":2.7e-5,"vrille":3.3e-5},
{"f":2365,"droit":5.9e-5,"vrille":4.4e-5},
{"f":2375,"droit":4.1e-5,"vrille":6.4e-5},
{"f":2385,"droit":3.2e-5,"vrille":4.6e-5},
{"f":2395,"droit":6.8e-5,"vrille":5.4e-5},
{"f":2405,"droit":3.7e-5,"vrille":3e-5},
{"f":2415,"droit":6.2e-5,"vrille":5.3e-5},
{"f":2425,"droit":2.6e-5,"vrille":3.5e-5},
{"f":2435,"droit":4.4e-5,"vrille":5.9e-5},
{"f":2445,"droit":5.5e-5,"vrille":2.5e-5},
{"f":2455,"droit":3e-5,"vrille":4.8e-5},
{"f":2465,"droit":4e-5,"vrille":3.9e-5},
{"f":2475,"droit":5.8e-5,"vrille":2.8e-5},
{"f":2485,"droit":2.5e-5,"vrille":5.7e-5},
{"f":2495,"droit":4.9e-5,"vrille":3.3e-5},
{"f":2505,"droit":2.7e-5,"vrille":4.8e-5},
{"f":2515,"droit":4.9e-5,"vrille":2.5e-5},
{"f":2525,"droit":3.2e-5,"vrille":5.3e-5},
{"f":2535,"droit":5.5e-5,"vrille":3e-5},
{"f":2545,"droit":2.4e-5,"vrille":4.2e-5},
{"f":2555,"droit":4.5e-5,"vrille":2.3e-5},
{"f":2565,"droit":3.6e-5,"vrille":5e-5},
{"f":2575,"droit":2.6e-5,"vrille":3.4e-5},
{"f":2585,"droit":5.2e-5,"vrille":2.7e-5},
{"f":2595,"droit":3e-5,"vrille":5.7e-5},
{"f":2605,"droit":4.4e-5,"vrille":3.2e-5},
{"f":2615,"droit":2.3e-5,"vrille":5.3e-5},
{"f":2625,"droit":4.9e-5,"vrille":2.2e-5},
{"f":2635,"droit":2.7e-5,"vrille":3.8e-5},
{"f":2645,"droit":3.9e-5,"vrille":4.7e-5},
{"f":2655,"droit":2.1e-5,"vrille":2.6e-5},
{"f":2665,"droit":4.6e-5,"vrille":3.4e-5},
{"f":2675,"droit":3.2e-5,"vrille":5e-5},
{"f":2685,"droit":2.5e-5,"vrille":3.6e-5},
{"f":2695,"droit":5.3e-5,"vrille":4.2e-5},
{"f":2705,"droit":2.9e-5,"vrille":2.3e-5},
{"f":2715,"droit":4.9e-5,"vrille":4.2e-5},
{"f":2725,"droit":2.1e-5,"vrille":2.8e-5},
{"f":2735,"droit":3.5e-5,"vrille":4.7e-5},
{"f":2745,"droit":4.4e-5,"vrille":2e-5},
{"f":2755,"droit":2.4e-5,"vrille":3.8e-5},
{"f":2765,"droit":3.2e-5,"vrille":3.1e-5},
{"f":2775,"droit":4.6e-5,"vrille":2.2e-5},
{"f":2785,"droit":1.95e-5,"vrille":4.5e-5},
{"f":2795,"droit":3.9e-5,"vrille":2.6e-5},
{"f":2805,"droit":2.2e-5,"vrille":3.75e-5},
{"f":2815,"droit":3.9e-5,"vrille":2e-5},
{"f":2825,"droit":2.55e-5,"vrille":4.2e-5},
{"f":2835,"droit":4.35e-5,"vrille":2.35e-5},
{"f":2845,"droit":1.85e-5,"vrille":3.3e-5},
{"f":2855,"droit":3.55e-5,"vrille":1.8e-5},
{"f":2865,"droit":2.85e-5,"vrille":3.95e-5},
{"f":2875,"droit":2.05e-5,"vrille":2.7e-5},
{"f":2885,"droit":4.15e-5,"vrille":2.1e-5},
{"f":2895,"droit":2.4e-5,"vrille":4.5e-5},
{"f":2905,"droit":3.45e-5,"vrille":2.5e-5},
{"f":2915,"droit":1.8e-5,"vrille":4.2e-5},
{"f":2925,"droit":3.85e-5,"vrille":1.75e-5},
{"f":2935,"droit":2.15e-5,"vrille":3e-5},
{"f":2945,"droit":3e-5,"vrille":3.7e-5},
{"f":2955,"droit":1.65e-5,"vrille":2.05e-5},
{"f":2965,"droit":3.65e-5,"vrille":2.7e-5},
{"f":2975,"droit":2.5e-5,"vrille":3.9e-5},
{"f":2985,"droit":1.9e-5,"vrille":2.8e-5},
{"f":2995,"droit":4.1e-5,"vrille":3.3e-5},
{"f":3005,"droit":2.25e-5,"vrille":1.8e-5},
{"f":3015,"droit":3.8e-5,"vrille":3.25e-5},
{"f":3025,"droit":1.6e-5,"vrille":2.1e-5},
{"f":3035,"droit":2.7e-5,"vrille":3.6e-5},
{"f":3045,"droit":3.4e-5,"vrille":1.55e-5},
{"f":3055,"droit":1.85e-5,"vrille":2.95e-5},
{"f":3065,"droit":2.45e-5,"vrille":2.4e-5},
{"f":3075,"droit":3.55e-5,"vrille":1.7e-5},
{"f":3085,"droit":1.5e-5,"vrille":3.45e-5},
{"f":3095,"droit":3e-5,"vrille":2e-5},
{"f":3105,"droit":1.6e-5,"vrille":2.8e-5},
{"f":3115,"droit":2.9e-5,"vrille":1.5e-5},
{"f":3125,"droit":1.9e-5,"vrille":3.15e-5},
{"f":3135,"droit":3.25e-5,"vrille":1.75e-5},
{"f":3145,"droit":1.4e-5,"vrille":2.5e-5},
{"f":3155,"droit":2.65e-5,"vrille":1.35e-5},
{"f":3165,"droit":2.15e-5,"vrille":2.95e-5},
{"f":3175,"droit":1.55e-5,"vrille":2e-5},
{"f":3185,"droit":3.1e-5,"vrille":1.6e-5},
{"f":3195,"droit":1.8e-5,"vrille":3.4e-5}
]},
"transform": [{"fold": ["droit", "vrille"], "as": ["serie", "c"]}],
"mark": {"type": "line", "strokeWidth": 1.5, "clip": true, "interpolate": "linear"},
"encoding": {
  "x": {"field": "f", "type": "quantitative", "title": "Fréquence(Hz)", "scale": {"domain": [0, 3200], "nice": false, "zero": false}, "axis": {"values": [0, 500, 1000, 1500, 2000, 2500, 3000], "format": "d", "labelPadding": 14, "titlePadding": 10, "labelFlush": false, "grid": true}},
  "y": {"field": "c", "type": "quantitative", "title": "Log [Couple(N.m)]", "scale": {"type": "log", "domain": [1e-6, 100], "nice": false}, "axis": {"values": [1e-6, 1e-4, 1e-2, 1, 100], "labelExpr": "datum.value >= 10 ? '10²' : datum.value >= 0.5 ? '10⁰' : datum.value >= 0.005 ? '10⁻²' : datum.value >= 5e-5 ? '10⁻⁴' : '10⁻⁶'", "labelPadding": 13, "titlePadding": 0, "grid": true}},
  "color": {"field": "serie", "type": "nominal", "scale": {"domain": ["droit", "vrille"], "range": ["#ff0000", "#0000ff"]}, "legend": {"title": null, "labelExpr": "datum.label == 'droit' ? 'Droit' : 'Vrillé'"}}
}
},
{
"data": {"values": [{"f": 291, "c": 0.034, "c2": 1.05e-3}, {"f": 1445, "c": 0.034, "c2": 1.0e-3}]},
"mark": {"type": "rule", "strokeWidth": 3, "color": "black"},
"encoding": {
  "x": {"field": "f", "type": "quantitative", "title": "Fréquence(Hz)"},
  "y": {"field": "c", "type": "quantitative", "title": "Log [Couple(N.m)]"},
  "y2": {"field": "c2"}
}
},
{
"data": {"values": [{"f": 291, "c": 1.05e-3}, {"f": 1445, "c": 1.0e-3}]},
"mark": {"type": "point", "shape": "M-1,-1.75L0,0L1,-1.75", "size": 256, "filled": false, "stroke": "black", "strokeWidth": 3, "opacity": 1, "strokeJoin": "miter"},
"encoding": {
  "x": {"field": "f", "type": "quantitative", "title": "Fréquence(Hz)"},
  "y": {"field": "c", "type": "quantitative", "title": "Log [Couple(N.m)]"}
}
},
{
"data": {"values": [{"f": 304, "c": 0.49, "t": "300 Hz"}, {"f": 304, "c": 0.087, "t": "(~ 6fs)"}, {"f": 1435, "c": 0.72, "t": "1462 Hz"}, {"f": 1435, "c": 0.123, "t": "(~ 30fs)"}]},
"mark": {"type": "text", "font": "Lato", "fontWeight": "bold", "fontSize": 23, "color": "black", "align": "center", "baseline": "middle"},
"encoding": {
  "x": {"field": "f", "type": "quantitative", "title": "Fréquence(Hz)"},
  "y": {"field": "c", "type": "quantitative", "title": "Log [Couple(N.m)]"},
  "text": {"field": "t"}
}
}
]
}
